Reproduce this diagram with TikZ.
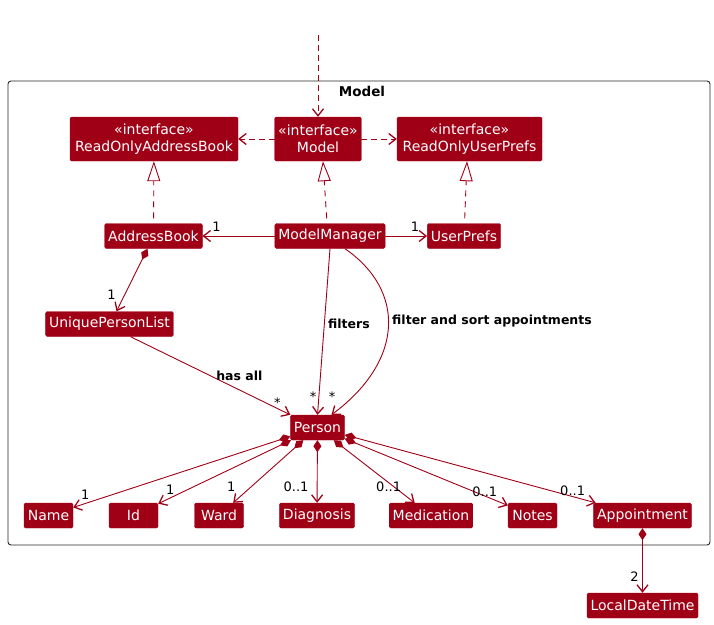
\documentclass[tikz,border=0pt]{standalone}
\usepackage{fontspec}
\setmainfont{DejaVu Sans}
\usetikzlibrary{arrows.meta}
\definecolor{umlred}{RGB}{160,0,22}

\begin{document}
\begin{tikzpicture}[x=1pt, y=-1pt]
    % Styles
    \tikzstyle{cls} = [rectangle, fill=umlred, draw=umlred, rounded corners=1.5pt, text=white, inner xsep=3.5pt, inner ysep=0pt, minimum width=49pt, minimum height=25pt, font=\fontsize{14}{16.5}\selectfont]
    \tikzstyle{iface} = [cls, align=center, minimum height=44pt]
    \tikzstyle{pkg} = [rectangle, draw=black!85, line width=0.9pt, rounded corners=3pt, minimum width=702pt, minimum height=464pt]
    \tikzstyle{dep} = [draw=umlred, line width=0.9pt, dash pattern=on 6pt off 4pt, -{Straight Barb[length=7pt, width=11pt, line width=1.3pt]}]
    \tikzstyle{real} = [draw=umlred, line width=0.9pt, dash pattern=on 6pt off 5pt, -{Triangle[open, length=20pt, width=13pt, fill=white]}]
    \tikzstyle{assoc} = [draw=umlred, line width=0.9pt, -{Straight Barb[length=7pt, width=11pt, line width=1.3pt]}]
    \tikzstyle{comp} = [draw=umlred, line width=0.9pt, {Diamond[length=12pt, width=8pt, fill=umlred]}-{Straight Barb[length=7pt, width=11pt, line width=1.3pt]}]
    \tikzstyle{lbl} = [font=\bfseries\fontsize{12.5}{15}\selectfont, text=black]
    \tikzstyle{mult} = [font=\fontsize{13}{15}\selectfont, text=black, inner sep=0pt]

    \useasboundingbox (0, 0) rectangle (714, 624);

    % Package
    \node[pkg] (pkg) at (359, 313) {};
    \node[font=\bfseries\fontsize{13.5}{16}\selectfont] (pkgtitle) at (362, 91) {Model};

    % Nodes
    \coordinate (ext) at (318, 35);
    \node[iface, minimum width=168pt] (roab) at (154, 139) {«interface»\\ReadOnlyAddressBook};
    \node[iface, minimum width=86pt] (model) at (318, 139) {«interface»\\Model};
    \node[iface, minimum width=145pt] (roup) at (469.5, 139) {«interface»\\ReadOnlyUserPrefs};
    \node[cls] (ab) at (153.5, 236) {AddressBook};
    \node[cls] (mm) at (330, 236) {ModelManager};
    \node[cls] (up) at (464, 236) {UserPrefs};
    \node[cls] (upl) at (109.5, 324) {UniquePersonList};
    \node[cls] (person) at (317.5, 427.5) {Person};
    \node[cls] (name) at (48.5, 515.5) {Name};
    \node[cls] (id) at (133.5, 515.5) {Id};
    \node[cls] (ward) at (219, 515.5) {Ward};
    \node[cls] (diag) at (317, 515.5) {Diagnosis};
    \node[cls] (med) at (431, 515.5) {Medication};
    \node[cls] (notes) at (532.5, 515.5) {Notes};
    \node[cls] (appt) at (642.5, 515.5) {Appointment};
    \node[cls] (ldt) at (642.5, 605.5) {LocalDateTime};

    % Interfaces
    \draw[dep] (ext) -- (model);
    \draw[dep] (model) -- (roab);
    \draw[dep] (model) -- (roup);
    \draw[real, shorten <=5pt] (ab) -- (roab);
    \draw[real, shorten <=5pt] ([xshift=-3pt]mm.north) -- ([xshift=5pt]model.south);
    \draw[real, shorten <=5pt] ([xshift=0.5pt]up.north) -- ([xshift=-2.5pt]roup.south);

    % Associations
    \draw[assoc] (mm) -- (ab) node[mult, at end, xshift=14pt, yshift=9pt] {1};
    \draw[assoc] (mm) -- (up) node[mult, at end, xshift=-12pt, yshift=9pt] {1};
    \draw[comp] ([xshift=-6pt]ab.south) -- ([xshift=7pt]upl.north) node[mult, at end, xshift=-5pt, yshift=17pt] {1};
    \draw[assoc] ([xshift=21pt]upl.south) -- (person.north west) node[lbl, pos=0.6, xshift=13pt, yshift=8pt] {has all} node[mult, at end, xshift=-13pt, yshift=12pt] {*};
    \draw[assoc] (mm.south) -- (person.north) node[lbl, pos=0.45, right] {filters} node[mult, at end, xshift=-4.5pt, yshift=18pt] {*};
    \draw[assoc] ([xshift=15pt]mm.south) .. controls (405, 290) and (405, 360) .. ([xshift=14pt]person.north) node[lbl, pos=0.47, right] {filter and sort appointments} node[mult, at end, xshift=0.5pt, yshift=18pt] {*};

    % Person fields
    \draw[comp] (person) -- (name) node[mult, at end, xshift=12pt, yshift=12.5pt] {1};
    \draw[comp] (person) -- (id) node[mult, at end, xshift=12pt, yshift=14pt] {1};
    \draw[comp] (person) -- (ward) node[mult, at end, xshift=-2pt, yshift=16pt] {1};
    \draw[comp] (person) -- (diag) node[mult, at end, xshift=-21pt, yshift=16pt] {0..1};
    \draw[comp] (person) -- (med) node[mult, at end, xshift=-26pt, yshift=16pt] {0..1};
    \draw[comp] (person) -- (notes) node[mult, at end, xshift=-23pt, yshift=13.5pt] {0..1};
    \draw[comp] (person) -- (appt) node[mult, at end, xshift=-23pt, yshift=12pt] {0..1};
    \draw[comp] (appt) -- (ldt) node[mult, at end, xshift=-8pt, yshift=16pt] {2};
\end{tikzpicture}
\end{document}
